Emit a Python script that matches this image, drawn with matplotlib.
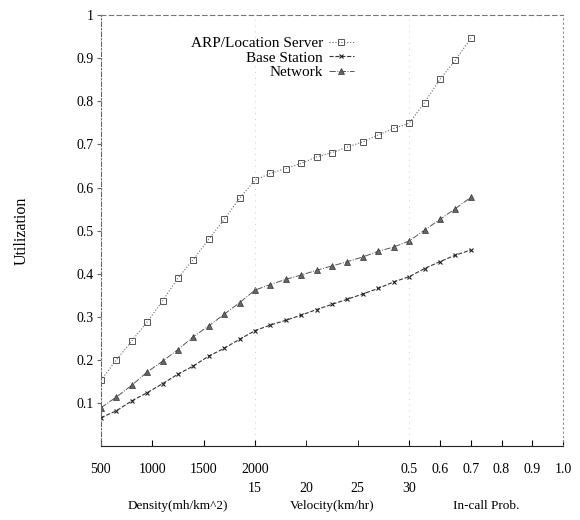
import matplotlib
matplotlib.use("Agg")
import matplotlib.pyplot as plt
import matplotlib.transforms as mtransforms

plt.rcParams['font.family'] = ['Liberation Serif', 'DejaVu Serif']

# x values of the three sweeps
density = [500, 650, 800, 950, 1100, 1250, 1400, 1550, 1700, 1850, 2000]
velocity = [15, 16.5, 18, 19.5, 21, 22.5, 24, 25.5, 27, 28.5, 30]
incall = [0.5, 0.55, 0.6, 0.65, 0.7]

# utilization
arp_density = [0.153, 0.200, 0.244, 0.288, 0.337, 0.390, 0.433, 0.480, 0.526, 0.575, 0.617]
arp_velocity = [0.621, 0.633, 0.644, 0.656, 0.671, 0.681, 0.694, 0.706, 0.722, 0.737, 0.749]
arp_incall = [0.749, 0.797, 0.851, 0.895, 0.946]

bs_density = [0.066, 0.082, 0.105, 0.124, 0.145, 0.167, 0.186, 0.209, 0.227, 0.248, 0.268]
bs_velocity = [0.268, 0.281, 0.292, 0.304, 0.317, 0.329, 0.341, 0.353, 0.366, 0.381, 0.393]
bs_incall = [0.393, 0.412, 0.428, 0.443, 0.455]

net_density = [0.089, 0.114, 0.141, 0.172, 0.197, 0.224, 0.254, 0.279, 0.306, 0.333, 0.362]
net_velocity = [0.362, 0.375, 0.387, 0.397, 0.408, 0.418, 0.428, 0.439, 0.452, 0.462, 0.476]
net_incall = [0.476, 0.501, 0.526, 0.551, 0.577]

density_ticks = [500, 1000, 1500, 2000]
velocity_ticks = [15, 20, 25, 30]
incall_ticks = [0.5, 0.6, 0.7, 0.8, 0.9, 1.0]


# the three sweeps share one axis, laid end to end
def u_density(d):
    return (d - 500) / 500.0


def u_velocity(v):
    return 3 + (v - 15) / 5.0


def u_incall(p):
    return 6 + (p - 0.5) * 6


def joined(dens, vel, inc):
    xs = [u_density(d) for d in density] + [u_velocity(v) for v in velocity[1:]] + [u_incall(p) for p in incall[1:]]
    ys = list(dens) + list(vel[1:]) + list(inc[1:])
    return xs, ys


fig = plt.figure(figsize=(5.8, 5.2), dpi=100)
ax = fig.add_axes([0.174, 0.142, 0.797, 0.829])

x, y = joined(arp_density, arp_velocity, arp_incall)
ax.plot(x, y, linestyle=':', color='#666666', lw=0.8, marker='s', ms=4, mfc='none', mec='#555555',
        mew=0.7, label='ARP/Location Server')
x, y = joined(bs_density, bs_velocity, bs_incall)
ax.plot(x, y, linestyle='--', color='#333333', lw=0.8, marker='x', ms=3.5, mec='#222222', mew=0.8,
        label='Base Station')
x, y = joined(net_density, net_velocity, net_incall)
ax.plot(x, y, linestyle='-.', color='#555555', lw=0.7, marker='^', ms=4, mfc='#666666', mec='#333333',
        mew=0.5, label='Network')

# faint dividers between sweeps
for b in [3, 6]:
    ax.axvline(b, color='#bbbbbb', lw=0.6, linestyle=(0, (1, 6)))

ax.set_xlim(0, 9)
ax.set_ylim(0, 1)

ax.xaxis.remove_overlapping_locs = False
major = [u_density(d) for d in density_ticks] + [u_incall(p) for p in incall_ticks]
major_labels = [str(d) for d in density_ticks] + ['%.1f' % p for p in incall_ticks]
ax.set_xticks(major)
ax.set_xticklabels(major_labels, fontsize=10)
ax.set_xticks([u_velocity(v) for v in velocity_ticks], minor=True)
ax.set_xticklabels([str(v) for v in velocity_ticks], minor=True, fontsize=10)
ax.tick_params(axis='x', which='major', direction='in', length=4, pad=12)
ax.tick_params(axis='x', which='minor', direction='in', length=4, pad=26)

ax.set_yticks([0.1, 0.2, 0.3, 0.4, 0.5, 0.6, 0.7, 0.8, 0.9, 1.0])
ax.set_yticklabels(['0.1', '0.2', '0.3', '0.4', '0.5', '0.6', '0.7', '0.8', '0.9', '1'], fontsize=10)
ax.tick_params(axis='y', direction='out', length=3, pad=2, color='#666666')

ax.spines['top'].set_linestyle((0, (4, 3)))
ax.spines['top'].set_color('#777777')
ax.spines['right'].set_linestyle((0, (1, 3)))
ax.spines['right'].set_color('#888888')
ax.spines['left'].set_linestyle((0, (4, 2, 1, 2)))
ax.spines['left'].set_color('#666666')
ax.spines['bottom'].set_color('#222222')

ax.set_ylabel('Utilization', fontsize=11.5, labelpad=34)

trans = mtransforms.blended_transform_factory(ax.transData, fig.transFigure)
ax.text(u_density(1250), 0.022, 'Density(mh/km^2)', transform=trans, ha='center', fontsize=9.5)
ax.text(u_velocity(22.5), 0.022, 'Velocity(km/hr)', transform=trans, ha='center', fontsize=9.5)
ax.text(u_incall(0.75), 0.022, 'In-call Prob.', transform=trans, ha='center', fontsize=9.5)

ax.legend(loc='upper right', bbox_to_anchor=(0.57, 0.975), frameon=False, markerfirst=False,
          fontsize=11, labelspacing=0.05, handlelength=1.6, handletextpad=0.4, borderpad=0.2)

fig.savefig('out.png', dpi=100)
